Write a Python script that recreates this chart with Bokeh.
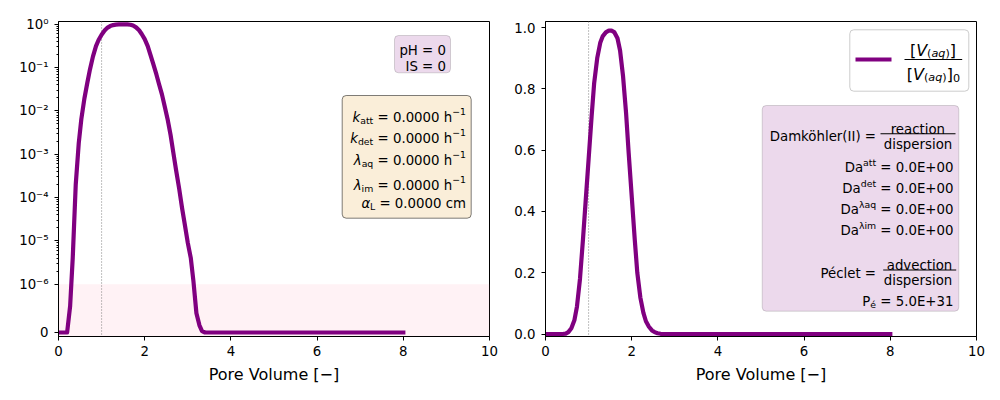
import numpy as np
from bokeh.plotting import figure
from bokeh.layouts import row
from bokeh.models import (Span, BoxAnnotation, Label, FixedTicker, ColumnDataSource,
                          Range1d, NumeralTickFormatter)
from bokeh.embed import file_html
from bokeh.resources import INLINE

# ---------------- data ----------------
pore_volume = [0.0, 0.07, 0.13, 0.20, 0.27, 0.33, 0.40, 0.47, 0.53, 0.60,
               0.67, 0.73, 0.80, 0.87, 0.93, 1.00, 1.07, 1.13, 1.20, 1.27,
               1.33, 1.40, 1.47, 1.53, 1.60, 1.67, 1.73, 1.80, 1.87, 1.93,
               2.00, 2.07, 2.13, 2.20, 2.27, 2.33, 2.40, 2.47, 2.53, 2.60,
               2.67, 2.73, 2.80, 2.87, 2.93, 3.00, 3.07, 3.13, 3.20, 3.27,
               3.33, 3.40, 3.47, 4.0, 5.0, 6.0, 7.0, 8.0]
concentration = [0.0, 0.0, 0.0, 0.0, 5.5e-7, 4e-6, 2e-4, 1.8e-3, 6.5e-3, 0.019,
                 0.045, 0.09, 0.18, 0.31, 0.43, 0.57, 0.71, 0.82, 0.90, 0.95,
                 0.972, 0.984, 0.99, 0.99, 0.984, 0.965, 0.925, 0.84, 0.72, 0.59,
                 0.45, 0.31, 0.20, 0.12, 0.07, 0.042, 0.024, 0.012, 6.5e-3, 2.8e-3,
                 1.0e-3, 4.2e-4, 1.6e-4, 5.5e-5, 2.4e-5, 9e-6, 4e-6, 1.2e-6, 4e-7, 1.5e-7,
                 3e-8, 0.0, 0.0, 0.0, 0.0, 0.0, 0.0, 0.0]

x_ticks = [0, 2, 4, 6, 8, 10]
log_tick_values = [0, 1e-6, 1e-5, 1e-4, 1e-3, 1e-2, 1e-1, 1e0]
log_tick_labels = ["0", "10⁻⁶", "10⁻⁵", "10⁻⁴", "10⁻³", "10⁻²", "10⁻¹", "10⁰"]
lin_ticks = [0.0, 0.2, 0.4, 0.6, 0.8, 1.0]
injection_pv = 1.0

FONT = "DejaVu Sans"
PURPLE = "#800080"
FS = 13.33
LINTHRESH = 1e-6
LINSCALE = 1.0 / (1.0 - 1.0 / 10.0)


def symlog(v):
    v = np.asarray(v, dtype=float)
    a = np.abs(v)
    lin = v / LINTHRESH * LINSCALE
    lg = np.sign(v) * (LINSCALE + np.log10(np.where(a > 0, a, 1.0) / LINTHRESH))
    return np.where(a <= LINTHRESH, lin, lg)


class Panel:
    def __init__(self, left, right, top, bottom, xr, yr):
        self.l, self.r, self.t, self.b = left, right, top, bottom
        self.xr, self.yr = xr, yr

    def dx(self, px):
        return self.xr[0] + (px - self.l) / (self.r - self.l) * (self.xr[1] - self.xr[0])

    def dy(self, py):
        return self.yr[1] - (py - self.t) / (self.b - self.t) * (self.yr[1] - self.yr[0])


CW = {' ': 651, '(': 799, ')': 799, '+': 1716, '.': 651, '=': 1716, '−': 1716,
      'D': 1577, 'E': 1294, 'H': 1540, 'I': 604, 'L': 1141, 'P': 1235, 'S': 1300,
      'V': 1401, '[': 799, ']': 799, 'a': 1255, 'c': 1126, 'd': 1300, 'e': 1260,
      'h': 1298, 'i': 569, 'k': 1186, 'l': 569, 'm': 1995, 'n': 1298, 'o': 1253,
      'p': 1300, 'q': 1300, 'r': 842, 's': 1067, 't': 803, 'v': 1212, 'é': 1260,
      'ö': 1253, 'λ': 1212, 'α': 1300}
for d in "0123456789":
    CW[d] = 1303


def tw(s, size):
    return sum(CW.get(c, 1250) for c in s) / 2048.0 * size


def rich(p, pan, segs, baseline, right=None, center=None):
    total = sum(tw(t, s) for t, s, _, _ in segs)
    x = right - total if right is not None else center - total / 2.0
    for t, s, dy, it in segs:
        lead = len(t) - len(t.lstrip(' '))
        txt = t.strip(' ')
        xs = x + tw(' ' * lead, s)
        p.add_layout(Label(x=pan.dx(xs), y=pan.dy(baseline - dy), text=txt,
                           text_font=FONT, text_font_size=f"{s:.2f}px",
                           text_font_style="italic" if it else "normal",
                           text_baseline="alphabetic", text_align="left",
                           text_color="black"))
        x += tw(t, s)


def box(p, pan, l, r, t, b, fill, falpha, line, lalpha, radius=4, lw=1):
    p.add_layout(BoxAnnotation(left=pan.dx(l), right=pan.dx(r), top=pan.dy(t), bottom=pan.dy(b),
                               fill_color=fill, fill_alpha=falpha, line_color=line,
                               line_alpha=lalpha, line_width=lw, border_radius=radius))


def bar(p, pan, l, r, y, color="black", th=1.0):
    p.add_layout(BoxAnnotation(left=pan.dx(l), right=pan.dx(r), top=pan.dy(y - th / 2),
                               bottom=pan.dy(y + th / 2), fill_color=color, fill_alpha=1.0,
                               line_color=None))


def make_fig(min_left, min_right, y_range):
    p = figure(width=500, height=400, x_range=Range1d(0, 10), y_range=Range1d(*y_range),
               output_backend="svg", toolbar_location=None,
               min_border_left=min_left, min_border_right=min_right,
               min_border_top=21, min_border_bottom=64)
    p.xgrid.visible = False
    p.ygrid.visible = False
    p.outline_line_color = "black"
    p.outline_line_width = 1
    p.outline_line_alpha = 1
    p.background_fill_color = "white"
    p.border_fill_color = "white"
    for ax in (p.xaxis[0], p.yaxis[0]):
        ax.axis_line_color = "black"
        ax.major_tick_line_color = "black"
        ax.minor_tick_line_color = "black"
        ax.major_tick_out = 4
        ax.major_tick_in = 0
        ax.minor_tick_out = 2
        ax.minor_tick_in = 0
        ax.major_label_text_font = FONT
        ax.major_label_text_font_size = f"{FS}px"
        ax.major_label_text_color = "black"
    p.xaxis.ticker = FixedTicker(ticks=x_ticks)
    p.xaxis.major_label_standoff = 5
    p.yaxis.major_label_standoff = 6
    p.xaxis.axis_label = "Pore Volume [−]"
    p.xaxis.axis_label_text_font = FONT
    p.xaxis.axis_label_text_font_size = "16px"
    p.xaxis.axis_label_text_font_style = "normal"
    p.xaxis.axis_label_text_color = "black"
    p.xaxis.axis_label_standoff = 6
    return p


source = ColumnDataSource(dict(pv=pore_volume, c=concentration,
                               c_sym=symlog(concentration)))

# ---------------- left panel: symlog ----------------
yl = (-0.092, 7.171)
p1 = make_fig(58, 11, yl)
L = Panel(58, 489, 21, 336, (0, 10), yl)

maj = [float(v) for v in symlog(log_tick_values)]
minor_vals = [m * 10.0 ** k for k in range(-6, 0) for m in range(2, 10)]
p1.yaxis.ticker = FixedTicker(ticks=maj, minor_ticks=[float(v) for v in symlog(minor_vals)])
p1.yaxis.major_label_overrides = {t: lab for t, lab in zip(maj, log_tick_labels)}

p1.add_layout(BoxAnnotation(top=float(symlog(LINTHRESH)), fill_color="pink", fill_alpha=0.2,
                            line_color=None, level="underlay"))
p1.add_layout(Span(location=injection_pv, dimension="height", line_color="gray",
                   line_dash="1 2", line_width=1, level="underlay"))
p1.line("pv", "c_sym", source=source, line_color=PURPLE, line_width=4.2,
        line_join="round", line_cap="square")

# pH / IS box
box(p1, L, 394, 450, 35, 72.3, PURPLE, 0.15, "black", 0.15)
rich(p1, L, [("pH = 0", FS, 0, False)], 50, right=445.5)
rich(p1, L, [("IS = 0", FS, 0, False)], 65.7, right=445.5)

# rate box
box(p1, L, 341.7, 470.7, 95, 217.7, "wheat", 0.5, "black", 0.5)
SUB, SUP = -3.0, 6.5
S2 = FS * 0.7
rate_rows = [
    ([("k", FS, 0, True), ("att", S2, SUB, False)], " = 0.0000 h", True, 117.3),
    ([("k", FS, 0, True), ("det", S2, SUB, False)], " = 0.0000 h", True, 138.3),
    ([("λ", FS, 0, True), ("aq", S2, SUB, False)], " = 0.0000 h", True, 160.3),
    ([("λ", FS, 0, True), ("im", S2, SUB, False)], " = 0.0000 h", True, 185.0),
    ([("α", FS, 0, True), ("L", S2, SUB, False)], " = 0.0000 cm", False, 202.7),
]
for sym, rest, inv, base in rate_rows:
    segs = sym + [(rest, FS, 0, False)]
    if inv:
        segs.append(("−1", S2, SUP, False))
    rich(p1, L, segs, base, right=465.5)

# ---------------- right panel: linear ----------------
yr = (-0.0078, 1.0196)
p2 = make_fig(45, 24, yr)
R = Panel(545, 976, 21, 336, (0, 10), yr)
p2.yaxis.ticker = FixedTicker(ticks=lin_ticks)
p2.yaxis.formatter = NumeralTickFormatter(format="0.0")
p2.add_layout(Span(location=injection_pv, dimension="height", line_color="gray",
                   line_dash="1 2", line_width=1, level="underlay"))
p2.line("pv", "c", source=source, line_color=PURPLE, line_width=4.2,
        line_join="round", line_cap="square")

# legend (manual, for the stacked fraction label)
box(p2, R, 849.3, 968.3, 29.3, 90.7, "white", 0.8, "#cccccc", 1.0)
bar(p2, R, 855, 891, 59, PURPLE, 4.2)
LS = 16.0
LS2 = LS * 0.7
num = [("[", LS, 0, False), ("V", LS, 0, True), ("(", LS2, -3, False), ("aq", LS2, -3, True),
       (")", LS2, -3, False), ("]", LS, 0, False)]
rich(p2, R, num, 49.5, center=932.5)
bar(p2, R, 904, 961.7, 59, "black", 1.0)
rich(p2, R, num + [("0", LS2, -3, False)], 74.0, center=932.9)

# dimensionless numbers box
box(p2, R, 761.7, 958.3, 105, 310.7, PURPLE, 0.15, "black", 0.15)
rich(p2, R, [("Damköhler(II) =", FS, 0, False)], 136, right=876)
rich(p2, R, [("reaction", FS, 0, False)], 128.8, center=917.5)
bar(p2, R, 880, 955, 133.3)
rich(p2, R, [("dispersion", FS, 0, False)], 143.6, center=917.5)
SP = 5.5
da_rows = [("att", 167.0), ("det", 188.2), ("λaq", 209.3), ("λim", 230.3)]
for sup, base in da_rows:
    rich(p2, R, [("Da", FS, 0, False), (sup, S2, SP, False), (" = 0.0E+00", FS, 0, False)],
         base, right=953)
rich(p2, R, [("Péclet =", FS, 0, False)], 272.5, right=876)
rich(p2, R, [("advection", FS, 0, False)], 265.0, center=919)
bar(p2, R, 882.7, 955.7, 269.5)
rich(p2, R, [("dispersion", FS, 0, False)], 279.8, center=917.5)
rich(p2, R, [("P", FS, 0, False), ("é", S2, SUB, False), (" = 5.0E+31", FS, 0, False)],
     301.0, right=953)

layout = row(p1, p2)
open("out.html", "w").write(file_html(layout, INLINE))
